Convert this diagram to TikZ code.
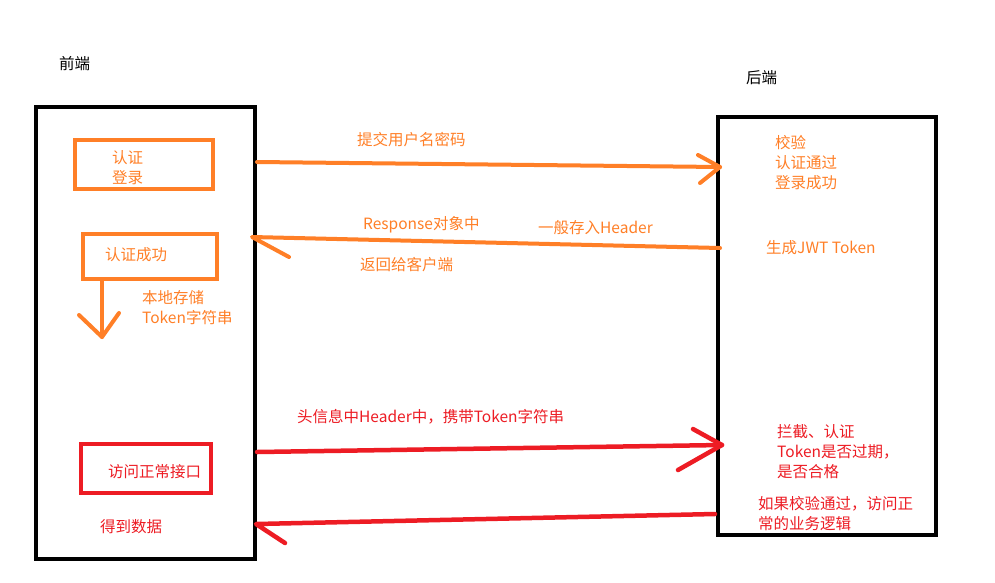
\documentclass[tikz,border=0pt]{standalone}
\usepackage{fontspec}
\setmainfont{Noto Sans CJK SC}
\definecolor{paintorange}{HTML}{FF7F27}
\definecolor{paintred}{HTML}{ED1C24}
\begin{document}
\begin{tikzpicture}[x=1pt,y=-1pt,
  frame/.style={draw=black, line width=4.5pt, minimum width=#1, inner sep=0},
  obox/.style={draw=paintorange, line width=4pt, inner sep=0},
  rbox/.style={draw=paintred, line width=4pt, inner sep=0},
  lbl/.style={anchor=west, inner sep=0, align=left, font=\fontsize{15.5}{20}\selectfont},
  olbl/.style={lbl, text=paintorange},
  rlbl/.style={lbl, text=paintred},
  oarr/.style={draw=paintorange, line width=4pt, line cap=round, line join=round},
  rarr/.style={draw=paintred, line width=4.5pt, line cap=round, line join=round}]
\useasboundingbox (0,0) rectangle (995,582);
\fill[white] (0,0) rectangle (995,582);

% frames
\node[frame=219, minimum height=452] (front) at (145.5,333) {};
\node[frame=218, minimum height=418] (back) at (827,326) {};
\node[lbl] (lfront) at (59,64) {前端};
\node[lbl] (lback) at (746,78) {后端};

% left boxes
\node[obox, minimum width=138, minimum height=49] (login) at (144,164.5) {};
\node[olbl] (tlogin) at (112,167.5) {认证\\登录};
\node[obox, minimum width=134, minimum height=45] (succ) at (150,256.5) {};
\node[olbl] (tsucc) at (105,255) {认证成功};
\node[olbl] (tstore) at (142,308) {本地存储\\Token字符串};
\node[rbox, minimum width=130, minimum height=49] (access) at (146,468.5) {};
\node[rlbl] (taccess) at (108,472) {访问正常接口};
\node[rlbl] (tget) at (100,527) {得到数据};

% down arrow
\coordinate (dtip) at (102,337);
\coordinate (dl) at (79,315);
\coordinate (dr) at (119,313);
\draw[oarr] (succ.south -| dtip) -- (dtip);
\draw[oarr] (dl) -- (dtip) -- (dr);

% arrow 1
\coordinate (a1s) at (257,162);
\coordinate (a1t) at (720,167);
\coordinate (a1u) at (698,155);
\coordinate (a1d) at (700,183);
\draw[oarr] (a1s) -- (a1t);
\draw[oarr] (a1u) -- (a1t) -- (a1d);
\node[olbl] (l1) at (357,140) {提交用户名密码};

% arrow 2
\coordinate (a2s) at (720,248);
\coordinate (a2t) at (252,237);
\coordinate (a2d) at (289,257);
\draw[oarr] (a2s) -- (a2t) -- (a2d);
\node[olbl] (l2a) at (363,225) {Response对象中};
\node[olbl] (l2b) at (538,228) {一般存入Header};
\node[olbl] (l2c) at (360,265) {返回给客户端};

% right orange text
\node[olbl] (tcheck) at (775,163) {校验\\认证通过\\登录成功};
\node[olbl] (tjwt) at (766,248) {生成JWT Token};

% arrow 3
\coordinate (a3s) at (257,452);
\coordinate (a3t) at (722,445);
\coordinate (a3u) at (693,429);
\coordinate (a3d) at (678,470);
\draw[rarr] (a3s) -- (a3t);
\draw[rarr] (a3u) -- (a3t) -- (a3d);
\node[rlbl] (l3) at (297,417) {头信息中Header中，携带Token字符串};

% arrow 4
\coordinate (a4s) at (715,514);
\coordinate (a4t) at (256,524);
\coordinate (a4d) at (285,543);
\draw[rarr] (a4s) -- (a4t) -- (a4d);

% right red text
\node[rlbl] (tintercept) at (777,452) {拦截、认证\\Token是否过期，\\是否合格};
\node[rlbl] (tpass) at (758,514) {如果校验通过，访问正\\常的业务逻辑};
\end{tikzpicture}
\end{document}
